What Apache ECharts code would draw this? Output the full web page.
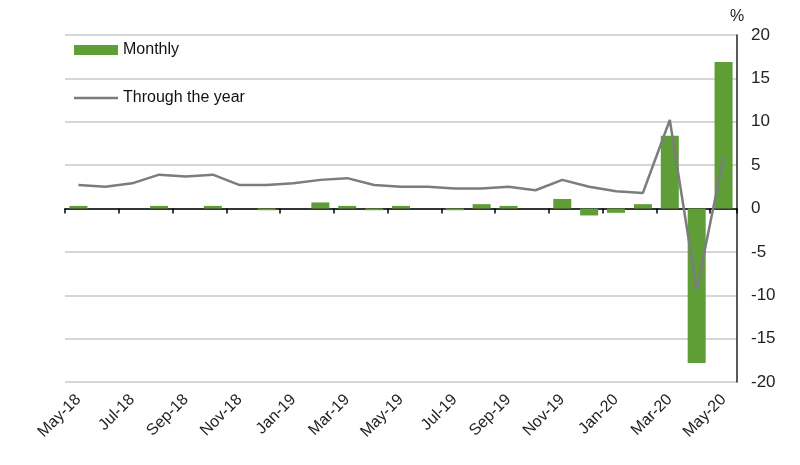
<!DOCTYPE html>
<html>
<head>
<meta charset="utf-8">
<script src="https://cdn.jsdelivr.net/npm/echarts@6/dist/echarts.min.js"></script>
<style>
  html, body { margin: 0; padding: 0; background: #fff; }
  #chart { width: 800px; height: 465px; }
</style>
</head>
<body>
<div id="chart"></div>
<script>
var months = ['May-18', 'Jun-18', 'Jul-18', 'Aug-18', 'Sep-18', 'Oct-18', 'Nov-18', 'Dec-18',
    'Jan-19', 'Feb-19', 'Mar-19', 'Apr-19', 'May-19', 'Jun-19', 'Jul-19', 'Aug-19', 'Sep-19',
    'Oct-19', 'Nov-19', 'Dec-19', 'Jan-20', 'Feb-20', 'Mar-20', 'Apr-20', 'May-20'];
var monthly = [0.3, 0.0, 0.0, 0.3, 0.0, 0.3, 0.0, -0.2, 0.0, 0.7, 0.3, -0.2, 0.3, 0.0, -0.2,
    0.5, 0.3, 0.0, 1.1, -0.8, -0.5, 0.5, 8.4, -17.8, 16.9];
var throughYear = [2.7, 2.5, 2.9, 3.9, 3.7, 3.9, 2.7, 2.7, 2.9, 3.3, 3.5, 2.7, 2.5, 2.5, 2.3,
    2.3, 2.5, 2.1, 3.3, 2.5, 2.0, 1.8, 10.2, -9.4, 5.9];
var yTicks = [-20, -15, -10, -5, 0, 5, 10, 15, 20];

var font = 'Liberation Sans, Arial, sans-serif';
var chart = echarts.init(document.getElementById('chart'));

var option = {
    animation: false,
    textStyle: { fontFamily: font },
    grid: { left: 65, right: 63, top: 35, bottom: 83 },
    legend: {
        orient: 'vertical',
        left: 69,
        top: 37,
        itemWidth: 44,
        itemHeight: 10,
        itemGap: 32,
        textStyle: { fontSize: 16, color: '#111', fontFamily: font },
        data: [
            { name: 'Monthly', icon: 'rect' },
            { name: 'Through the year', icon: 'path://M0,0 H44 V2.5 H0 Z' }
        ]
    },
    xAxis: [
        {
            // labels along the bottom
            type: 'category',
            data: months,
            position: 'bottom',
            axisLine: { show: false, onZero: false },
            axisTick: { show: false },
            axisLabel: {
                interval: 1,
                rotate: 45,
                margin: 15,
                fontSize: 16,
                color: '#222',
                fontFamily: font
            }
        },
        {
            // zero line with ticks
            type: 'category',
            data: months,
            position: 'bottom',
            axisLine: { show: true, onZero: true, onZeroAxisIndex: 0, lineStyle: { color: '#000', width: 1.5 } },
            axisTick: { show: true, interval: 1, length: 5, lineStyle: { color: '#000', width: 1.5 } },
            axisLabel: { show: false }
        }
    ],
    yAxis: {
        type: 'value',
        position: 'right',
        min: yTicks[0],
        max: yTicks[yTicks.length - 1],
        interval: 5,
        name: '%',
        nameLocation: 'end',
        nameGap: 10,
        nameTextStyle: { fontSize: 16, color: '#222', fontFamily: font, align: 'center' },
        axisLine: { show: true, lineStyle: { color: '#222', width: 1.5 } },
        axisTick: { show: false },
        axisLabel: { fontSize: 17, color: '#222', margin: 14, fontFamily: font },
        splitLine: { show: true, lineStyle: { color: '#c8c8c8', width: 1.5 } }
    },
    series: [
        {
            name: 'Monthly',
            type: 'bar',
            xAxisIndex: 0,
            data: monthly,
            barWidth: 18,
            itemStyle: { color: '#5f9e37' }
        },
        {
            name: 'Through the year',
            type: 'line',
            xAxisIndex: 0,
            data: throughYear,
            symbol: 'none',
            lineStyle: { color: '#7c7c7c', width: 2.5 },
            itemStyle: { color: '#7c7c7c' }
        }
    ]
};

chart.setOption(option);
</script>
</body>
</html>
